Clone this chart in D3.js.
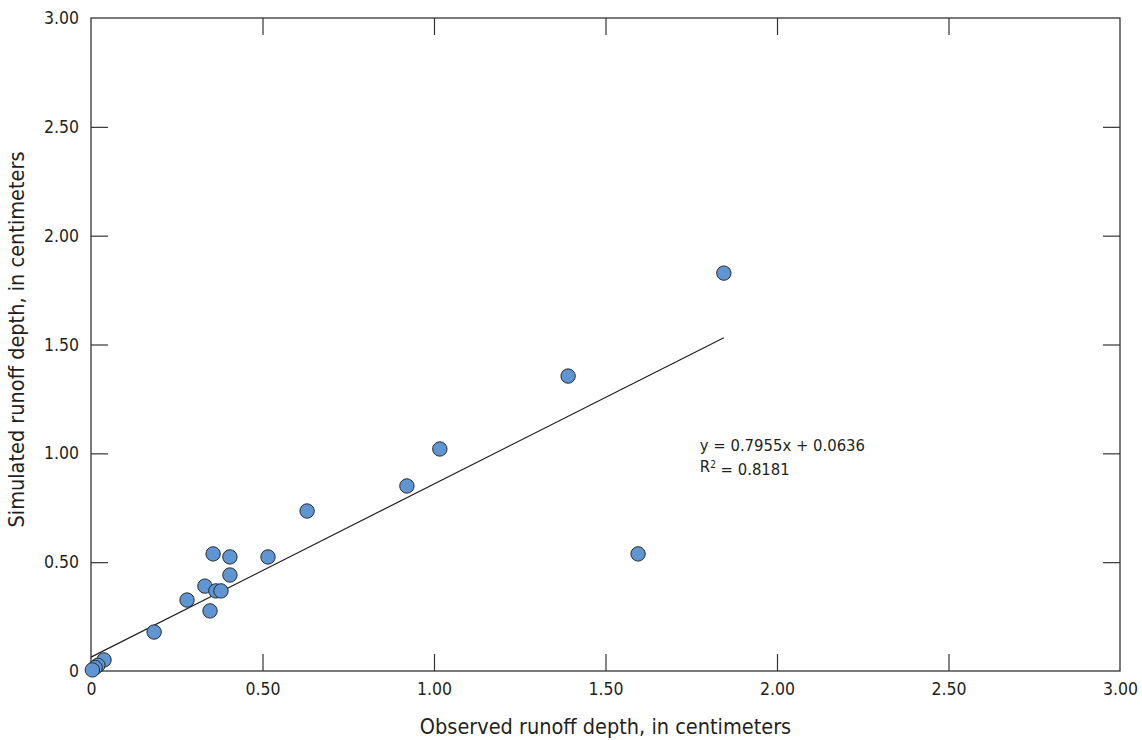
<!DOCTYPE html>
<html>
<head>
<meta charset="utf-8">
<script src="https://cdn.jsdelivr.net/npm/d3@7"></script>
<style>
  body { margin: 0; background: #fff; }
  svg text { font-family: "DejaVu Sans Condensed", "DejaVu Sans", sans-serif; font-stretch: condensed; fill: #231f20; }
</style>
</head>
<body>
<div id="chart"></div>
<script>
// observed / simulated runoff depth, cm
var observed  = [1.845, 1.391, 1.017, 0.921, 1.595, 0.630, 0.516, 0.356, 0.405, 0.405, 0.332, 0.364, 0.379, 0.280, 0.347, 0.184, 0.038, 0.020, 0.012, 0.004];
var simulated = [1.828, 1.355, 1.020, 0.850, 0.538, 0.735, 0.524, 0.538, 0.524, 0.441, 0.390, 0.368, 0.368, 0.326, 0.276, 0.179, 0.051, 0.026, 0.016, 0.005];
var slope = 0.7955, intercept = 0.0636;
var tickVals = [0, 0.5, 1, 1.5, 2, 2.5, 3];
var tickLabels = ["0", "0.50", "1.00", "1.50", "2.00", "2.50", "3.00"];

var data = observed.map(function(d, i) { return {x: d, y: simulated[i]}; });

var margin = {top: 18, right: 22, bottom: 69, left: 91},
    width = 1142 - margin.left - margin.right,
    height = 740 - margin.top - margin.bottom;

var svg = d3.select("#chart")
  .append("svg")
  .attr("width", 1142)
  .attr("height", 740)
  .append("g")
  .attr("transform", "translate(" + margin.left + "," + margin.top + ")");

var x = d3.scaleLinear().domain([0, 3]).range([0, width]);
var y = d3.scaleLinear().domain([0, 3]).range([height, 0]);

var fmt = function(d) { return tickLabels[tickVals.indexOf(d)]; };
var tickLen = 17;

// ticks on all four sides, pointing inward
var axes = [
  {ax: d3.axisBottom(x).tickSize(-tickLen), t: "translate(0," + height + ")", cls: "xb", labels: true},
  {ax: d3.axisTop(x).tickSize(-tickLen), t: "translate(0,0)", cls: "xt", labels: false},
  {ax: d3.axisLeft(y).tickSize(-tickLen), t: "translate(0,0)", cls: "yl", labels: true},
  {ax: d3.axisRight(y).tickSize(-tickLen), t: "translate(" + width + ",0)", cls: "yr", labels: false}
];
axes.forEach(function(a) {
  var g = svg.append("g")
    .attr("class", a.cls)
    .attr("transform", a.t)
    .call(a.ax.tickValues(tickVals).tickFormat(a.labels ? fmt : "").tickPadding(0));
  g.select(".domain").remove();
  g.selectAll("line").attr("stroke", "#333").attr("stroke-width", 1.2);
  g.selectAll("text").style("font-size", "17.5px").attr("fill", "#231f20");
});
// remove ticks sitting on the frame corners
svg.selectAll(".tick").filter(function(d) { return d === 0 || d === 3; }).select("line").remove();

// frame
svg.append("rect")
  .attr("width", width).attr("height", height)
  .attr("fill", "none").attr("stroke", "#333").attr("stroke-width", 1.3);

// label positions
svg.select(".xb").selectAll("text").attr("y", 12).attr("dy", "0.71em");
svg.select(".yl").selectAll("text").attr("x", -12);

// regression line
var xmax = d3.max(observed);
svg.append("line")
  .attr("x1", x(0)).attr("y1", y(intercept))
  .attr("x2", x(xmax)).attr("y2", y(slope * xmax + intercept))
  .attr("stroke", "#231f20").attr("stroke-width", 1.2);

// points
svg.append("g")
  .selectAll("circle")
  .data(data)
  .enter()
  .append("circle")
  .attr("cx", function(d) { return x(d.x); })
  .attr("cy", function(d) { return y(d.y); })
  .attr("r", 7.2)
  .attr("fill", "#5f95d3")
  .attr("stroke", "#2b2b2b")
  .attr("stroke-width", 1);

// equation
svg.append("text")
  .attr("x", x(1.775))
  .attr("y", y(1.012))
  .style("font-size", "16.5px")
  .text("y = 0.7955x + 0.0636");
var r2 = svg.append("text")
  .attr("x", x(1.775))
  .attr("y", y(0.912))
  .style("font-size", "16.5px");
r2.append("tspan").text("R");
r2.append("tspan").attr("dy", "-0.45em").style("font-size", "10px").text("2");
r2.append("tspan").attr("dy", "0.45em").text(" = 0.8181");

// axis titles
svg.append("text")
  .attr("x", width / 2)
  .attr("y", height + 63)
  .attr("text-anchor", "middle")
  .style("font-size", "21.5px")
  .text("Observed runoff depth, in centimeters");

svg.append("text")
  .attr("transform", "rotate(-90)")
  .attr("x", -height / 2 + 5)
  .attr("y", -67)
  .attr("text-anchor", "middle")
  .style("font-size", "21.5px")
  .text("Simulated runoff depth, in centimeters");
</script>
</body>
</html>
